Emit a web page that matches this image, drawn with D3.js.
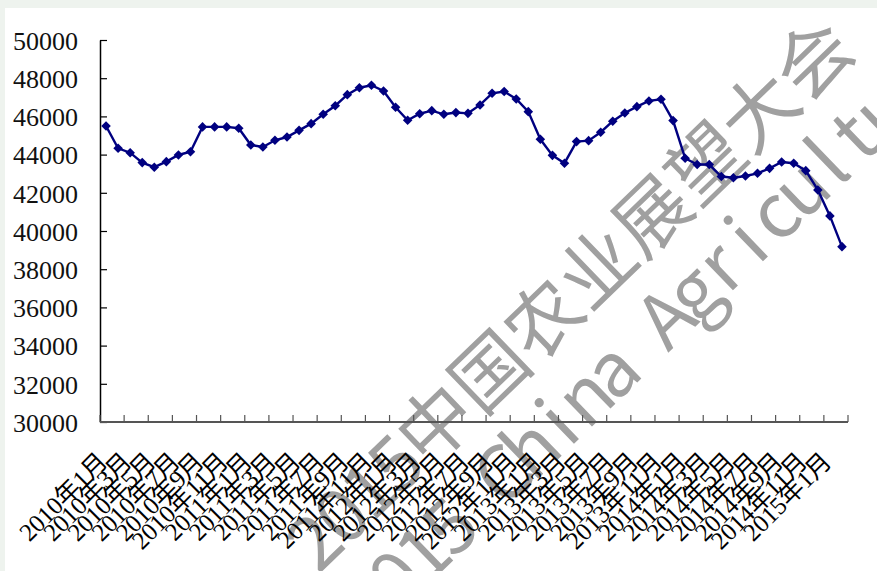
<!DOCTYPE html>
<html><head><meta charset="utf-8">
<script src="https://cdn.jsdelivr.net/npm/d3@7"></script>
<style>html,body{margin:0;padding:0;background:#eef3ee;} svg{display:block}</style>
</head><body>
<svg id="chart" width="877" height="571"></svg>
<script>
const categories = [
 "2010年1月","2010年2月","2010年3月","2010年4月","2010年5月","2010年6月","2010年7月","2010年8月","2010年9月","2010年10月","2010年11月","2010年12月",
 "2011年1月","2011年2月","2011年3月","2011年4月","2011年5月","2011年6月","2011年7月","2011年8月","2011年9月","2011年10月","2011年11月","2011年12月",
 "2012年1月","2012年2月","2012年3月","2012年4月","2012年5月","2012年6月","2012年7月","2012年8月","2012年9月","2012年10月","2012年11月","2012年12月",
 "2013年1月","2013年2月","2013年3月","2013年4月","2013年5月","2013年6月","2013年7月","2013年8月","2013年9月","2013年10月","2013年11月","2013年12月",
 "2014年1月","2014年2月","2014年3月","2014年4月","2014年5月","2014年6月","2014年7月","2014年8月","2014年9月","2014年10月","2014年11月","2014年12月",
 "2015年1月","2015年2月"
];
const values = [
 45500,44330,44100,43580,43340,43630,43980,44150,45450,45450,45450,45380,
 44500,44400,44750,44920,45270,45620,46110,46560,47140,47500,47630,47330,
 46480,45800,46140,46300,46110,46200,46160,46600,47210,47300,46910,46250,
 44800,43960,43550,44680,44730,45170,45750,46180,46510,46810,46900,45780,
 43810,43480,43480,42850,42790,42880,43020,43280,43610,43550,43160,42150,
 40790,39180
];
const tickLabels = [
 "2010年1月","2010年3月","2010年5月","2010年7月","2010年9月","2010年11月",
 "2011年1月","2011年3月","2011年5月","2011年7月","2011年9月","2011年11月",
 "2012年1月","2012年3月","2012年5月","2012年7月","2012年9月","2012年11月",
 "2013年1月","2013年3月","2013年5月","2013年7月","2013年9月","2013年11月",
 "2014年1月","2014年3月","2014年5月","2014年7月","2014年9月","2014年11月",
 "2015年1月"
];
const yTicks = [30000,32000,34000,36000,38000,40000,42000,44000,46000,48000,50000];
const watermarkCN = "2015中国农业展望大会";
const watermarkEN = "2015 China Agricultural Outlook";

const svg = d3.select("#chart");
svg.append("rect").attr("width",877).attr("height",571).attr("fill","#eef3ee");
svg.append("rect").attr("x",5).attr("y",8).attr("width",872).attr("height",563).attr("fill","#ffffff");

const x = d3.scaleBand().domain(categories).range([100,848]).paddingInner(0).paddingOuter(0);
const y = d3.scaleLinear().domain([30000,50000]).range([422,40]);
const bw = x.bandwidth();
const cx = c => x(c) + bw/2;

// watermark (half-width latin / full-width CJK, like a SimHei WordArt)
const ang = -44, fs = 75;
const isWide = ch => /[\u3000-\u9fff]/.test(ch);
function layout(str, anchorIdx){
  const chars = Array.from(str);
  let pos = 0; const out = [];
  chars.forEach(ch => { const w = (isWide(ch)?1:0.5)*fs; out.push({ch, c: pos + w/2}); pos += w; });
  const ref = out[anchorIdx].c;
  return out.map(d => ({ch: d.ch, x: d.c - ref}));
}
const wm = svg.append("g").attr("fill","#a0a0a0")
  .attr("font-family","'Noto Sans CJK SC', sans-serif").attr("font-size",fs);
wm.append("g").attr("transform",`translate(432,420) rotate(${ang})`)
  .selectAll("text").data(layout(watermarkCN,4)).join("text")
  .attr("x",d=>d.x).attr("y",0).attr("text-anchor","middle").attr("dominant-baseline","central").text(d=>d.ch);
wm.append("g").attr("transform",`translate(500,470) rotate(${ang})`)
  .selectAll("text").data(layout(watermarkEN,5)).join("text")
  .attr("x",d=>d.x).attr("y",0).attr("text-anchor","middle").attr("dominant-baseline","central").text(d=>d.ch);

// y axis
const yAxis = d3.axisLeft(y).tickValues(yTicks).tickSizeInner(-7).tickSizeOuter(0).tickPadding(22).tickFormat(d3.format("d"));
const ya = svg.append("g").attr("transform","translate(100,0)").call(yAxis);
ya.select(".domain").attr("stroke","#000").attr("stroke-width",1.5);
ya.selectAll(".tick line").attr("stroke","#000").attr("stroke-width",1.2);
ya.selectAll(".tick text").attr("font-family","'Liberation Serif', serif").attr("font-size",26).attr("fill","#111").attr("dy","0.36em");

// x axis
const xg = svg.append("g");
xg.append("line").attr("x1",x.range()[0]).attr("x2",x.range()[1]).attr("y1",y(30000)).attr("y2",y(30000))
  .attr("stroke","#555").attr("stroke-width",2);
const tickPos = categories.filter((d,i)=>i%2===0).map(c=>x(c)).concat([x.range()[1]]);
xg.selectAll("line.tk").data(tickPos).join("line").attr("class","tk")
  .attr("x1",d=>d).attr("x2",d=>d).attr("y1",y(30000)).attr("y2",y(30000)-7)
  .attr("stroke","#555").attr("stroke-width",1.2);
xg.selectAll("text.lb").data(tickLabels).join("text").attr("class","lb")
  .attr("transform",d=>`translate(${cx(d)+3},463) rotate(-45)`)
  .attr("text-anchor","end")
  .attr("font-family","'Liberation Serif','Noto Sans CJK SC',serif").attr("font-size",25).attr("fill","#000")
  .text(d=>d);

// line
const data = categories.map((c,i)=>({c, v: values[i]}));
svg.append("path").datum(data)
  .attr("d", d3.line().x(d=>cx(d.c)).y(d=>y(d.v)))
  .attr("fill","none").attr("stroke","#000080").attr("stroke-width",2.4);
svg.selectAll("path.mk").data(data).join("path").attr("class","mk")
  .attr("d", d3.symbol(d3.symbolSquare, 46)())
  .attr("transform", d=>`translate(${cx(d.c)},${y(d.v)}) rotate(45)`)
  .attr("fill","#000080");
</script>
</body></html>
